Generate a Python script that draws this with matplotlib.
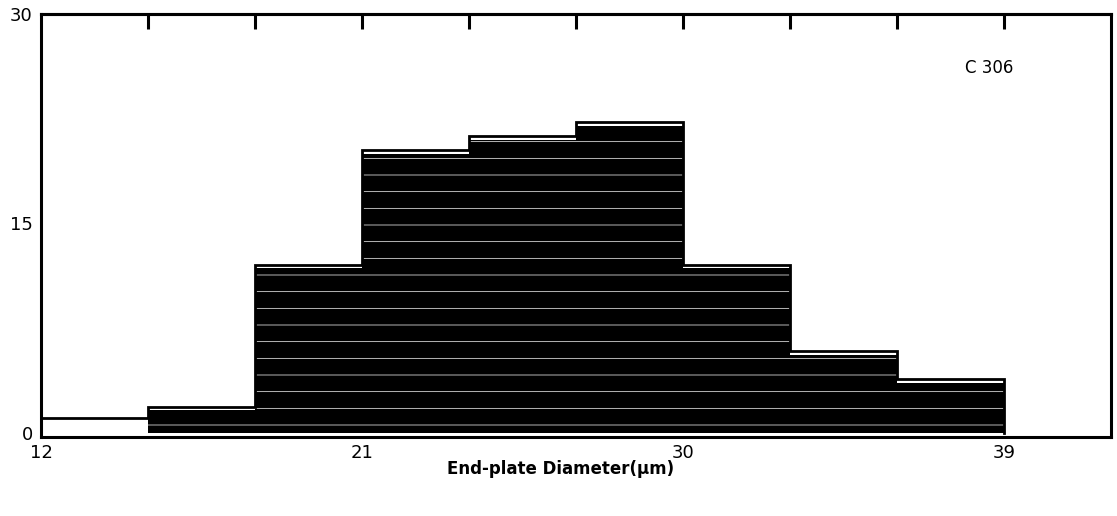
import matplotlib
matplotlib.use('Agg')
import matplotlib.pyplot as plt
import numpy as np

# ── DATOS ──────────────────────────────────────────────
bin_edges = [12, 15, 18, 21, 24, 27, 30, 33, 36, 39]
counts    = [0.8, 1.6, 11.8, 20.0, 21.0, 22.0, 11.8, 5.6, 3.6]
xticks    = [12, 21, 30, 39]
yticks    = [0, 15, 30]
top_ticks = [15, 18, 21, 24, 27, 30, 33, 36, 39]
label_txt = 'C 306'

fig = plt.figure(figsize=(11.17, 5.16), dpi=100)
ax = fig.add_axes([0.0367, 0.1531, 0.958, 0.8198])

# barras: relleno negro con rayas blancas finas (imitan el escaneado)
plt.rcParams['hatch.color'] = 'white'
plt.rcParams['hatch.linewidth'] = 0.5
widths = np.diff(bin_edges)
# la primera barra va sin relleno
ax.bar(bin_edges[1:-1], counts[1:], width=widths[1:], align='edge',
       color='black', edgecolor='white', hatch='-', linewidth=0)

# contorno escalonado
xs = np.repeat(bin_edges, 2)[1:-1]
ys = np.repeat(counts, 2)
ax.plot(np.r_[bin_edges[0], xs, bin_edges[-1]], np.r_[0, ys + 0.25, 0],
        color='black', lw=2, solid_joinstyle='miter')

ax.set_xlim(12, 42)
ax.set_ylim(-0.3, 30)

for s in ax.spines.values():
    s.set_linewidth(2.2)

ax.set_xticks(xticks)
ax.set_xticklabels([str(v) for v in xticks], fontsize=13)
ax.tick_params(axis='x', length=0, pad=5)
ax.set_yticks(yticks)
ax.set_yticklabels([str(v) for v in yticks], fontsize=13)
ax.tick_params(axis='y', which='major', length=0, pad=6)
ax.set_yticks([15], minor=True)
ax.tick_params(axis='y', which='minor', direction='in', length=12,
               width=2.2, left=True, right=True)

# marcas superiores
sec = ax.secondary_xaxis('top')
sec.set_xticks(top_ticks)
sec.set_xticklabels([])
sec.tick_params(direction='in', length=11, width=2.2)
for s in sec.spines.values():
    s.set_linewidth(2.2)

ax.text(37.9, 26.1, label_txt, fontsize=12, ha='left', va='center')

ax.set_xlabel('End-plate Diameter(µm)', fontsize=12, fontweight='bold')
ax.xaxis.set_label_coords(0.486, -0.054)

fig.savefig('out.png', dpi=100)
